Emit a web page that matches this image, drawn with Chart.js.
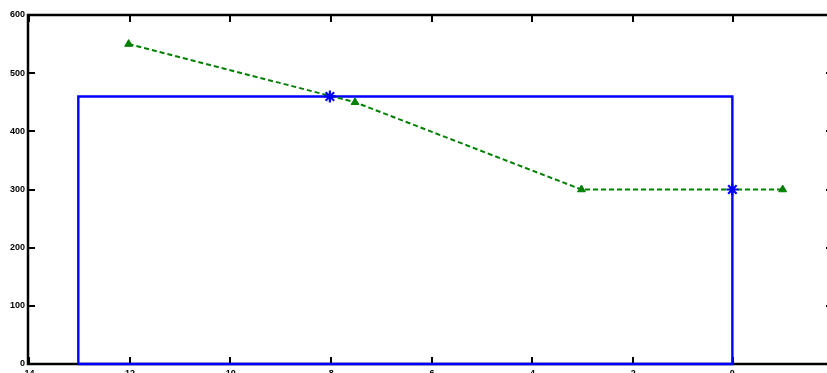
<!DOCTYPE html>
<html>
<head>
<meta charset="utf-8">
<script src="https://cdn.jsdelivr.net/npm/chart.js@4"></script>
<style>
  html, body { margin:0; padding:0; background:#fff; overflow:hidden; }
  #wrap { position:absolute; left:0; top:0; width:850px; height:392px; }
</style>
</head>
<body>
<div id="wrap"><canvas id="c" width="850" height="392"></canvas></div>
<script>
// Data
const xTicks = [-14, -12, -10, -8, -6, -4, -2, 0, 2];
const yTicks = [0, 100, 200, 300, 400, 500, 600];
const boxX = [-13, -13, 0, 0, -13];
const boxY = [0, 460, 460, 0, 0];
const dashX = [-12, -7.5, -3, 1];
const dashY = [550, 450, 300, 300];
const starX = [-8, 0];
const starY = [460, 300];

const toPts = (xs, ys) => xs.map((x, i) => ({x: x, y: ys[i]}));

const frame = {
  id: 'frame',
  beforeDatasetsDraw(chart) {
    const ctx = chart.ctx, a = chart.chartArea;
    const xs = chart.scales.x, ys = chart.scales.y;
    ctx.save();
    ctx.strokeStyle = '#000';
    ctx.lineWidth = 2;
    ctx.beginPath();
    xTicks.forEach(v => {
      const p = Math.round(xs.getPixelForValue(v)) + 1;
      ctx.moveTo(p, a.bottom); ctx.lineTo(p, a.bottom - 7);
      ctx.moveTo(p, a.top); ctx.lineTo(p, a.top + 7);
    });
    yTicks.forEach(v => {
      const p = Math.round(ys.getPixelForValue(v));
      ctx.moveTo(a.left, p); ctx.lineTo(a.left + 7, p);
      ctx.moveTo(a.right, p); ctx.lineTo(a.right - 7, p);
    });
    ctx.stroke();
    ctx.lineWidth = 2.5;
    ctx.strokeRect(a.left, a.top, a.right - a.left, a.bottom - a.top);
    ctx.restore();
  }
};

new Chart(document.getElementById('c'), {
  type: 'scatter',
  data: {
    datasets: [
      {
        data: toPts(boxX, boxY),
        showLine: true,
        borderColor: '#0000ff',
        borderWidth: 2.4,
        pointRadius: 0,
        fill: false,
        order: 2
      },
      {
        data: toPts(dashX, dashY),
        showLine: true,
        borderColor: '#008000',
        borderWidth: 2,
        borderDash: [5, 3],
        pointStyle: 'triangle',
        pointRadius: 4.5,
        pointBackgroundColor: '#008000',
        pointBorderColor: '#008000',
        pointBorderWidth: 1,
        order: 1
      },
      {
        data: toPts(starX, starY),
        showLine: false,
        pointStyle: 'star',
        pointRadius: 6,
        pointBorderColor: '#0000ff',
        pointBorderWidth: 2.2,
        order: 0
      }
    ]
  },
  options: {
    responsive: false,
    animation: false,
    clip: false,
    layout: { padding: { top: 15, right: 17, left: 0, bottom: 0 } },
    plugins: { legend: { display: false }, tooltip: { enabled: false } },
    scales: {
      x: {
        type: 'linear', min: -14, max: 2,
        afterFit(s) { s.height = 28; },
        afterBuildTicks(s) { s.ticks = xTicks.map(v => ({value: v})); },
        grid: { display: false, drawTicks: false },
        border: { display: false },
        ticks: { padding: 4, color: '#000', font: { family: 'Liberation Sans, Arial', size: 9, weight: 'bold' }, maxRotation: 0 }
      },
      y: {
        type: 'linear', min: 0, max: 600,
        afterFit(s) { s.width = 28; },
        afterBuildTicks(s) { s.ticks = yTicks.map(v => ({value: v})); },
        grid: { display: false, drawTicks: false },
        border: { display: false },
        ticks: { padding: 3, color: '#000', font: { family: 'Liberation Sans, Arial', size: 9, weight: 'bold' } }
      }
    }
  },
  plugins: [frame]
});
</script>
</body>
</html>
